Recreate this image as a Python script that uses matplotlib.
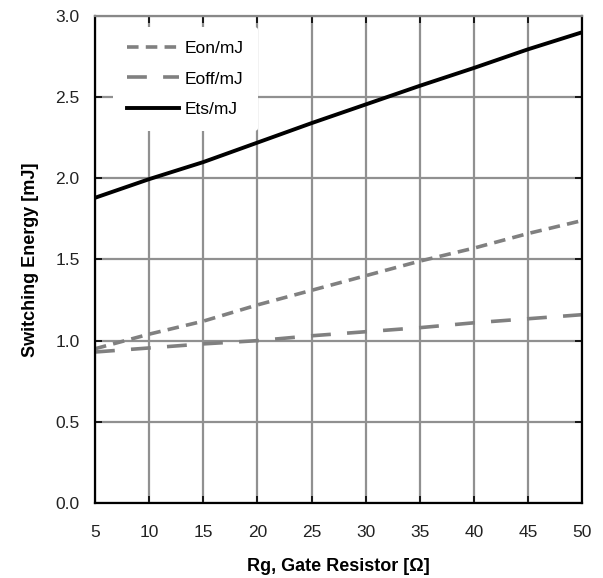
import numpy as np
import matplotlib.pyplot as plt

plt.rcParams['font.family'] = ['Liberation Sans', 'DejaVu Sans']

# data
rg = [5, 10, 15, 20, 25, 30, 35, 40, 45, 50]
eon = [0.95, 1.04, 1.12, 1.22, 1.31, 1.40, 1.49, 1.57, 1.66, 1.74]
eoff = [0.93, 0.955, 0.98, 1.00, 1.03, 1.055, 1.08, 1.11, 1.135, 1.16]
ets = [1.88, 1.995, 2.10, 2.22, 2.34, 2.455, 2.57, 2.68, 2.795, 2.90]

fig = plt.figure(figsize=(6.03, 5.78), dpi=100)
ax = fig.add_axes([0.1575, 0.1298, 0.8080, 0.8425])

ax.plot(rg, eon, color='#808080', lw=2.6, dashes=(3.2, 2), label='Eon/mJ')
ax.plot(rg, eoff, color='#808080', lw=2.6, dashes=(5.5, 4.5), label='Eoff/mJ')
ax.plot(rg, ets, color='black', lw=2.8, label='Ets/mJ')

ax.set_xlim(5, 50)
ax.set_ylim(0, 3.0)
ax.set_xticks(np.arange(5, 51, 5))
ax.set_yticks(np.arange(0, 3.01, 0.5))
ax.set_yticklabels(['%.1f' % v for v in np.arange(0, 3.01, 0.5)])
ax.grid(True, color='#909090', lw=1.6)
ax.set_axisbelow(True)
ax.tick_params(direction='in', top=True, right=True, length=5, width=1.2,
               labelsize=12.5, labelcolor='#222222')
ax.tick_params(axis='y', pad=11)
ax.tick_params(axis='x', pad=16)
for s in ax.spines.values():
    s.set_linewidth(1.6)
ax.spines['top'].set_color('#888888')

ax.set_xlabel('Rg, Gate Resistor [Ω]', fontsize=13, fontweight='bold', labelpad=13)
ax.set_ylabel('Switching Energy [mJ]', fontsize=13, fontweight='bold', labelpad=12)

leg = ax.legend(loc='upper left', bbox_to_anchor=(0.037, 0.978), borderaxespad=0,
                frameon=True, fontsize=12.5, handlelength=3.0, borderpad=0.8,
                handletextpad=0.35, labelspacing=0.9)
leg.get_frame().set_edgecolor('none')
leg.get_frame().set_facecolor('white')
leg.get_frame().set_alpha(1)

fig.savefig('out.png', dpi=100)
